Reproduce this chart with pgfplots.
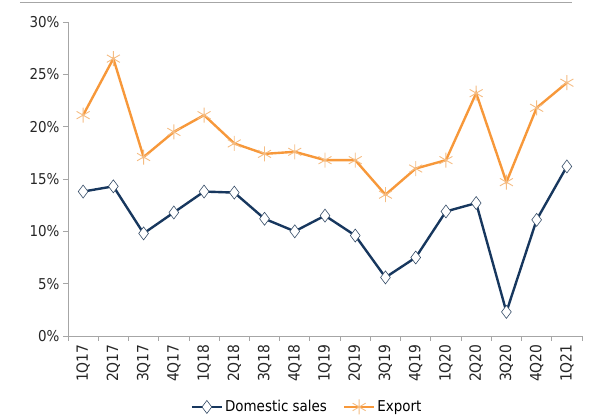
\documentclass[border=0pt]{standalone}
\usepackage{pgfplots}
\pgfplotsset{compat=1.18}
\usepackage{fontspec}
\setmainfont{DejaVu Sans Condensed}
\definecolor{navy}{HTML}{17375E}
\definecolor{orangeline}{HTML}{F7983A}
\definecolor{orangemark}{HTML}{F5BC82}
\definecolor{axisgray}{HTML}{A6A6A6}
\begin{document}
\begin{tikzpicture}
\begin{axis}[
  scale only axis,
  width=514bp, height=314bp,
  xmin=-0.5, xmax=16.5,
  ymin=0, ymax=30,
  axis x line*=bottom, axis y line*=left,
  axis line style={axisgray, line width=0.8pt},
  xtick={0,...,16},
  xticklabels={1Q17,2Q17,3Q17,4Q17,1Q18,2Q18,3Q18,4Q18,1Q19,2Q19,3Q19,4Q19,1Q20,2Q20,3Q20,4Q20,1Q21},
  major x tick style={draw=none},
  minor xtick={-0.5,0.5,...,16.5},
  minor x tick style={axisgray, line width=0.8pt},
  minor tick length=5bp,
  ytick={0,5,...,30},
  yticklabel={\pgfmathprintnumber{\tick}\%},
  y tick style={axisgray, line width=0.8pt},
  major tick length=5bp,
  tick align=outside,
  x tick label style={rotate=90, anchor=east, font=\fontsize{15.5}{17}\selectfont, text=black!85},
  y tick label style={font=\fontsize{15}{17}\selectfont, text=black!85},
  /pgf/number format/assume math mode=true,
  legend style={at={(0.465,-0.226)}, anchor=center, draw=none, legend columns=2,
    font=\fontsize{15}{17}\selectfont, /tikz/every even column/.append style={column sep=14bp}},
  legend cell align=left,
  legend image code/.code={
    \draw[mark repeat=2,mark phase=2] plot coordinates {(0bp,0bp) (15bp,0bp) (30bp,0bp)};},
]
\addplot[navy, line width=2.4pt, mark=diamond*, mark size=6.5bp,
  mark options={fill=white, draw=navy!70!gray, line width=0.6pt}]
coordinates {
(0,13.8) (1,14.3) (2,9.8) (3,11.8) (4,13.8) (5,13.7) (6,11.2) (7,10.0)
(8,11.5) (9,9.6) (10,5.6) (11,7.5) (12,11.9) (13,12.7) (14,2.3) (15,11.1) (16,16.2)
};
\addlegendentry{Domestic sales}
\addplot[orangeline, line width=2.4pt, mark=asterisk, mark size=7.5bp,
  mark options={draw=orangemark, line width=0.9pt}]
coordinates {
(0,21.1) (1,26.5) (2,17.1) (3,19.5) (4,21.1) (5,18.4) (6,17.4) (7,17.6)
(8,16.8) (9,16.8) (10,13.5) (11,16.0) (12,16.8) (13,23.2) (14,14.7) (15,21.8) (16,24.2)
};
\addlegendentry{Export}
\end{axis}
% frame rule along the top edge
\draw[axisgray, line width=0.8pt] (-48bp,334bp) -- (504bp,334bp);
\useasboundingbox (-68bp,-81bp) rectangle (521bp,336bp);
\end{tikzpicture}
\end{document}
